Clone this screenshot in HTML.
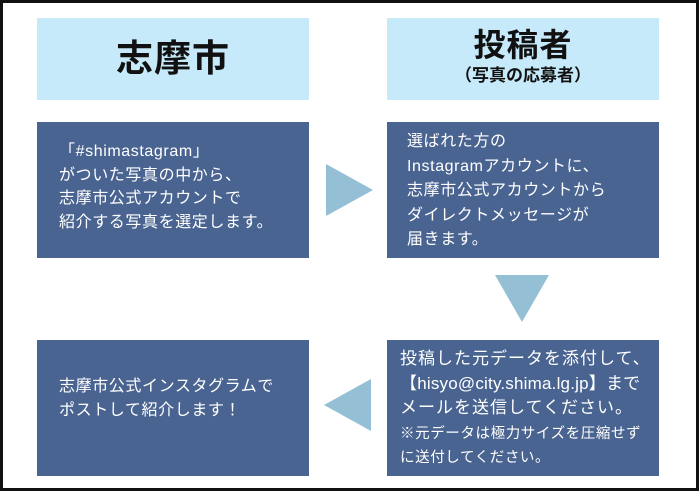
<!DOCTYPE html>
<html><head><meta charset="utf-8"><style>
body{margin:0;width:700px;height:495px;background:#fff;position:relative;overflow:hidden;font-family:"Liberation Sans","Noto Sans CJK JP",sans-serif}
.frame{position:absolute;left:0;top:0;width:693px;height:485px;border:3px solid #111}
.h{position:absolute;background:#c6eafa;width:272px;height:82px;top:18px;text-align:center;color:#111;font-weight:bold}
.b{position:absolute;background:#4a6491;width:272px;height:136px;color:#fff;font-size:16px;letter-spacing:0.6px;line-height:23.5px;box-sizing:border-box;white-space:nowrap}
.t{position:absolute;width:0;height:0}
</style></head><body>
<div class="frame"></div>
<div class="h" style="left:37px;font-size:37px;line-height:82px;letter-spacing:1px">志摩市</div>
<div class="h" style="left:387px"><div style="font-size:32px;margin-top:8px;line-height:38px;letter-spacing:1px">投稿者</div><div style="font-size:17px;line-height:24px">（写真の応募者）</div></div>
<div class="b" style="left:37px;top:122px;padding:18px 0 0 22px">「#shimastagram」<br>がついた写真の中から、<br>志摩市公式アカウントで<br>紹介する写真を選定します。</div>
<div class="b" style="left:387px;top:122px;padding:8px 0 0 20px;line-height:24.5px">選ばれた方の<br>Instagramアカウントに、<br>志摩市公式アカウントから<br>ダイレクトメッセージが<br>届きます。</div>
<div class="b" style="left:37px;top:340px;padding:35px 0 0 22px">志摩市公式インスタグラムで<br>ポストして紹介します！</div>
<div class="b" style="left:387px;top:340px;padding:7px 0 0 13px;font-size:17px;letter-spacing:1px;line-height:24.5px">投稿した元データを添付して、<br><span style="letter-spacing:0.2px">【hisyo@city.shima.lg.jp】まで</span><br>メールを送信してください。<br><span style="font-size:14.5px;letter-spacing:0.6px;line-height:22px">※元データは極力サイズを圧縮せず<br>に送付してください。</span></div>
<div class="t" style="left:326px;top:164px;border-top:26px solid transparent;border-bottom:26px solid transparent;border-left:47px solid #94bfd4"></div>
<div class="t" style="left:495px;top:275px;border-left:27px solid transparent;border-right:27px solid transparent;border-top:47px solid #94bfd4"></div>
<div class="t" style="left:324px;top:379px;border-top:26px solid transparent;border-bottom:26px solid transparent;border-right:47px solid #94bfd4"></div>
</body></html>
